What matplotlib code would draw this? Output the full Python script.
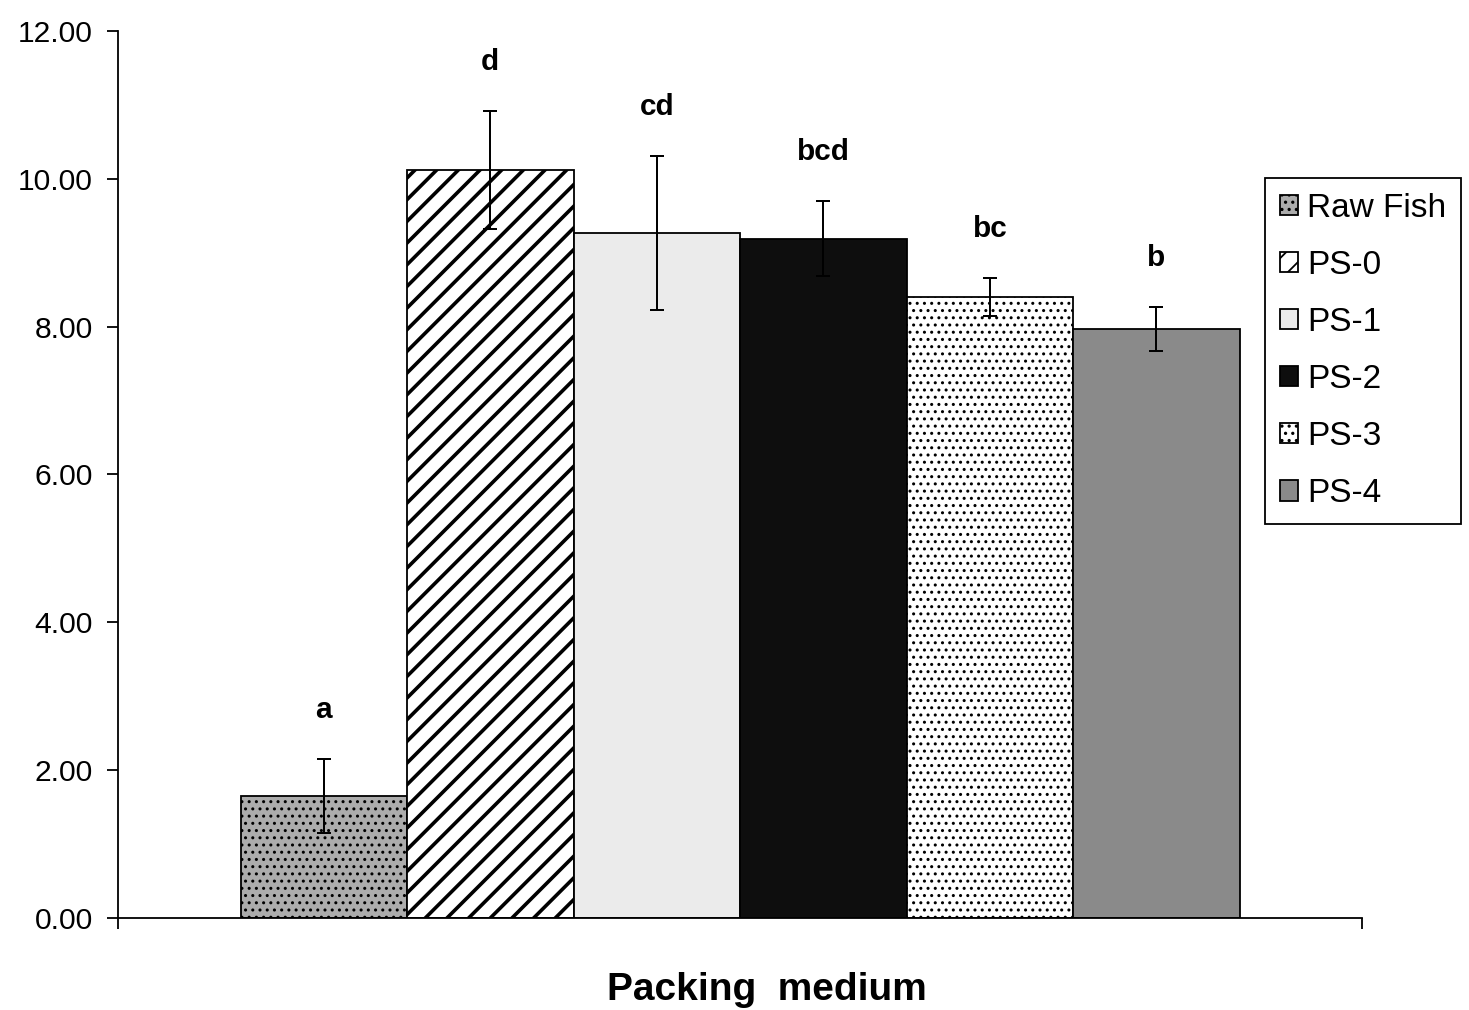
import matplotlib
matplotlib.use("Agg")
import matplotlib.pyplot as plt

groups = ["Raw Fish", "PS-0", "PS-1", "PS-2", "PS-3", "PS-4"]
means = [1.65, 10.12, 9.27, 9.19, 8.40, 7.97]
errs = [0.50, 0.80, 1.04, 0.51, 0.26, 0.30]
letters = ["a", "d", "cd", "bcd", "bc", "b"]
yticks = [0, 2, 4, 6, 8, 10, 12]

faces = ["#acacac", "white", "#ebebeb", "#0e0e0e", "white", "#8a8a8a"]
hatches = ["...", "//", "", "", "...", ""]
hatch_lw = [0.9, 2.0, 1.0, 1.0, 0.9, 1.0]

plt.rcParams["font.family"] = ["Liberation Sans", "DejaVu Sans"]

DPI = 130
fig = plt.figure(figsize=(1469 / DPI, 1010 / DPI), dpi=DPI)
ax = fig.add_axes([0.0803, 0.0911, 0.847, 0.8782])

span = 0.803
w = span / len(groups)
for i, (g, m, e, lt) in enumerate(zip(groups, means, errs, letters)):
    x = -span / 2 + w * (i + 0.5)
    with plt.rc_context({"hatch.linewidth": hatch_lw[i]}):
        bars = ax.bar(x, m, w, color=faces[i], edgecolor="black", hatch=hatches[i],
                      linewidth=1.0, label=g)
    for b in bars:
        if hasattr(b, "set_hatch_linewidth"):
            b.set_hatch_linewidth(hatch_lw[i])
    ax.errorbar(x, m, yerr=e, fmt="none", ecolor="black", elinewidth=1.1,
                capsize=4, capthick=1.1)
    ax.text(x, m + e + 0.66, lt, ha="center", va="center", fontsize=16.5,
            fontweight="bold")

ax.set_xlim(-0.5, 0.5)
ax.set_ylim(0, 12)
ax.set_yticks(yticks)
ax.set_yticklabels([f"{v:.2f}" for v in yticks])
ax.set_xticks([-0.5, 0.5])
ax.set_xticklabels(["", ""])
ax.tick_params(axis="both", direction="out", length=6, width=1, labelsize=16.6, pad=8)
for s in ["top", "right"]:
    ax.spines[s].set_visible(False)
for s in ["left", "bottom"]:
    ax.spines[s].set_linewidth(1.0)

fig.text(767 / 1469, 1 - 990 / 1010, "Packing  medium", ha="center", va="center",
         fontsize=21.5, fontweight="bold")

leg = ax.legend(loc="upper left", bbox_to_anchor=(1265 / 1469, 1 - 178 / 1010),
                bbox_transform=fig.transFigure, fontsize=18.5, frameon=True,
                fancybox=False, framealpha=1, edgecolor="black",
                handlelength=0.55, handleheight=0.55, handletextpad=0.25,
                labelspacing=0.78, borderpad=0.45, borderaxespad=0)
leg.get_frame().set_linewidth(1.0)

fig.savefig("out.png", dpi=DPI)
